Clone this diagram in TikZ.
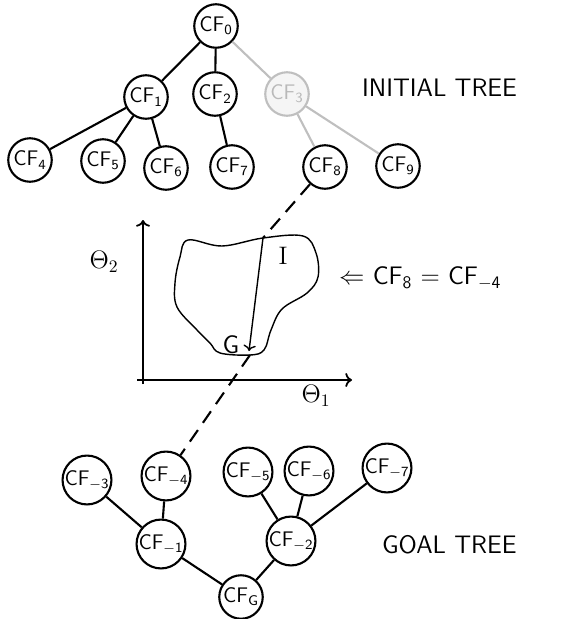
\documentclass[tikz,border=0pt]{standalone}
\usepackage{amsmath,amssymb}
\usepackage{tikz}
\usetikzlibrary{arrows.meta,calc}

\tikzset{cf/.style={circle,draw,line width=1.2pt,inner sep=0pt,minimum size=0.87cm,font=\large\sffamily},
  faded/.style={draw=gray!50,text=gray!55,fill=gray!8},
  link/.style={line width=1.2pt},
  title/.style={anchor=west,font=\Large\sffamily}}

\begin{document}
\begin{tikzpicture}[x=0.02cm,y=-0.02cm,=>stealth]
\useasboundingbox (0,0) rectangle (573,619);
% initial tree
\node[cf] (CF0) at (216,26) {CF\textsubscript{0}};
\node[cf] (CF1) at (146,97) {CF\textsubscript{1}};
\node[cf] (CF2) at (215,94) {CF\textsubscript{2}};
\node[cf,faded] (CF3) at (287,94) {CF\textsubscript{3}};
\node[cf] (CF4) at (30,160) {CF\textsubscript{4}};
\node[cf] (CF5) at (103,161) {CF\textsubscript{5}};
\node[cf] (CF6) at (166,168) {CF\textsubscript{6}};
\node[cf] (CF7) at (232,167) {CF\textsubscript{7}};
\node[cf] (CF8) at (325,167) {CF\textsubscript{8}};
\node[cf] (CF9) at (398,166) {CF\textsubscript{9}};
\draw[link] (CF0)--(CF1) (CF0)--(CF2)
  (CF1)--(CF4) (CF1)--(CF5) (CF1)--(CF6) (CF2)--(CF7);
\draw[link,gray!50] (CF0)--(CF3) (CF3)--(CF8) (CF3)--(CF9);
\node[title] (init) at (356,88) {INITIAL TREE};

% configuration space
\coordinate (O) at (143,384);
\coordinate (Ytop) at (143,220);
\coordinate (Xbeg) at (137,380);
\coordinate (Xend) at (352,380);
\coordinate (I) at (263,238);
\coordinate (G) at (250,355);
\draw[->,line width=1pt] (O)--(Ytop);
\draw[->,line width=1pt] (Xbeg)--(Xend);
\draw[line width=0.8pt] plot[smooth cycle,tension=0.6] coordinates{
  (I) (303,236) (316,253) (318,277) (307,293) (282,309) (271,330)
  (264,350) (G) (220,353) (210,343) (197,330) (177,307) (175,283)
  (180,257) (188,240) (222,246)};
\draw[->,line width=0.8pt] (I)--($(G)+(-1,-4)$);
%\fill (I) circle (1.5);
\node[font=\Large] (Ilab) at (283,256) {I};
\node[font=\Large\sffamily] (Glab) at (231,345) {G};
\node[font=\Large] (th2) at (104,262) {$\Theta_2$};
\node[font=\Large] (th1) at (316,396) {$\Theta_1$};
\node[anchor=west,font=\Large\sffamily] (eq) at (333,278)
  {$\Leftarrow$ CF\textsubscript{8} = CF\textsubscript{$-$4}};

% goal tree
\node[cf] (G3) at (87,480) {CF\textsubscript{$-$3}};
\node[cf] (G4) at (166,476) {CF\textsubscript{$-$4}};
\node[cf] (G5) at (248,472) {CF\textsubscript{$-$5}};
\node[cf] (G6) at (309,471) {CF\textsubscript{$-$6}};
\node[cf] (G7) at (387,468) {CF\textsubscript{$-$7}};
\node[cf] (G1) at (161,544) {CF\textsubscript{$-$1}};
\node[cf] (G2) at (291,541) {CF\textsubscript{$-$2}};
\node[cf] (GG) at (241,597) {CF\textsubscript{G}};
\draw[link] (G3)--(G1) (G4)--(G1) (G1)--(GG)
  (G5)--(G2) (G6)--(G2) (G7)--(G2) (G2)--(GG);
\node[title] (goal) at (376,545) {GOAL TREE};

% correspondence
\draw[link,dashed,dash pattern=on 8pt off 5pt] (CF8)--(I);
\draw[link,dashed,dash pattern=on 8pt off 5pt] (G)--(G4);
\end{tikzpicture}
\end{document}
